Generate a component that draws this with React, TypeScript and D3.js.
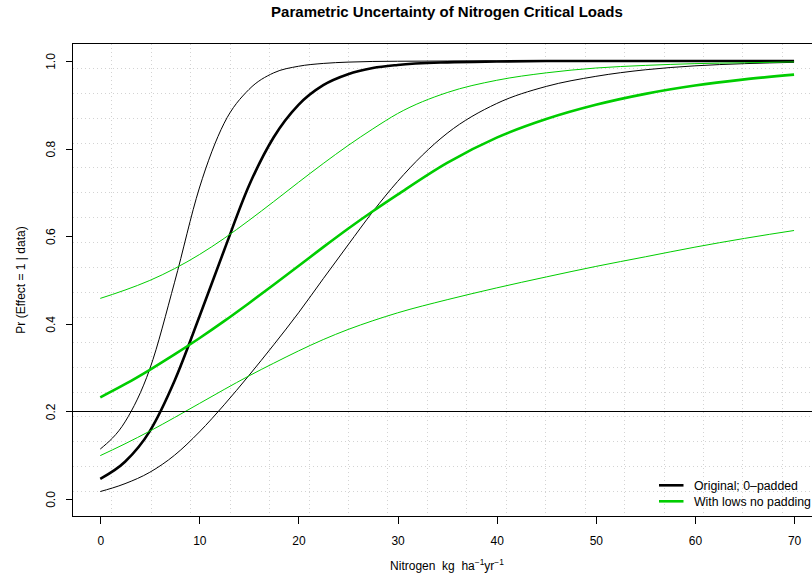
import React, { useEffect, useRef } from "react";
import * as d3 from "d3";

const nitrogen = [0, 2.5, 5, 7.5, 10, 12.5, 15, 17.5, 20, 22.5, 25, 27.5, 30, 35, 40, 45, 50, 55, 60, 65, 70];

// original, 0-padded (black)
const origUpper = [0.114, 0.176, 0.297, 0.495, 0.71, 0.858, 0.935, 0.973, 0.988, 0.9945, 0.9975, 0.999, 0.9995, 1, 1, 1, 1, 1, 1, 1, 1];
const origMid = [0.046, 0.085, 0.155, 0.27, 0.416, 0.568, 0.715, 0.826, 0.9, 0.945, 0.97, 0.984, 0.991, 0.997, 0.999, 1, 1, 1, 1, 1, 1];
const origLower = [0.017, 0.035, 0.061, 0.1, 0.153, 0.215, 0.282, 0.352, 0.425, 0.503, 0.58, 0.656, 0.725, 0.835, 0.903, 0.942, 0.965, 0.98, 0.989, 0.994, 0.997];

// with lows, no padding (green)
const lowsUpper = [0.458, 0.477, 0.499, 0.526, 0.558, 0.595, 0.636, 0.679, 0.723, 0.766, 0.807, 0.845, 0.88, 0.928, 0.956, 0.973, 0.984, 0.99, 0.994, 0.996, 0.998];
const lowsMid = [0.232, 0.262, 0.295, 0.33, 0.367, 0.406, 0.447, 0.489, 0.532, 0.575, 0.617, 0.657, 0.695, 0.7675, 0.825, 0.8675, 0.9, 0.925, 0.944, 0.958, 0.969];
const lowsLower = [0.099, 0.126, 0.155, 0.186, 0.218, 0.25, 0.281, 0.31, 0.338, 0.364, 0.387, 0.407, 0.425, 0.455, 0.482, 0.507, 0.531, 0.553, 0.575, 0.595, 0.613];

const xTicks = [0, 10, 20, 30, 40, 50, 60, 70];
const yTicks = [0, 0.2, 0.4, 0.6, 0.8, 1.0];
const threshold = 0.2;

const legendLabels = ["Original; 0\u2013padded", "With lows no padding"];
const GREEN = "#00cd00";
const FONT = "'Liberation Sans', Arial, Helvetica, sans-serif";

const W = 812;
const H = 577;
const plot = { left: 72.5, right: 821.8, top: 43.5, bottom: 516.5 };

export default function App() {
  const xAxisRef = useRef<SVGGElement>(null);
  const yAxisRef = useRef<SVGGElement>(null);

  // R-style usr range: data range padded by 4% on each side
  const x = d3.scaleLinear().domain([-2.8, 72.8]).range([plot.left, plot.right]);
  const y = d3.scaleLinear().domain([-0.04, 1.04]).range([plot.bottom, plot.top]);

  const line = (vals: number[]) =>
    d3
      .line<number>()
      .x((_, i) => x(nitrogen[i]))
      .y((d) => y(d))
      .curve(d3.curveMonotoneX)(vals) || "";

  // grid(19, 19): equal divisions of the plot region
  const nGrid = 19;
  const xGrid = d3.range(1, nGrid).map((k) => -2.8 + (k * 75.6) / nGrid);
  const yGrid = d3.range(1, nGrid).map((k) => -0.04 + (k * 1.08) / nGrid);

  useEffect(() => {
    const gx = d3.select(xAxisRef.current!);
    gx.call(d3.axisBottom(x).tickValues(xTicks).tickSize(7).tickSizeOuter(0).tickFormat(d3.format("d")));
    gx.select(".domain").attr("d", `M${x(0)},0H${x(70)}`);
    gx.selectAll(".tick text").attr("y", 28).attr("dy", 0).style("font-size", "12px");
    gx.attr("font-family", FONT).attr("shape-rendering", "crispEdges");

    const gy = d3.select(yAxisRef.current!);
    gy.call(d3.axisLeft(y).tickValues(yTicks).tickSize(7).tickSizeOuter(0).tickFormat(d3.format(".1f")));
    gy.select(".domain").attr("d", `M0,${y(0)}V${y(1)}`);
    gy.selectAll(".tick text")
      .attr("x", 0)
      .attr("dy", 0)
      .attr("text-anchor", "middle")
      .attr("transform", "translate(-18,0) rotate(-90)")
      .style("font-size", "12px");
    gy.attr("font-family", FONT).attr("shape-rendering", "crispEdges");
  }, []);

  return (
    <div style={{ position: "fixed", left: 0, top: 0 }}>
      <svg width={W} height={H} style={{ display: "block", background: "#fff" }}>
        <defs>
          <clipPath id="plotClip">
            <rect x={plot.left} y={plot.top} width={plot.right - plot.left} height={plot.bottom - plot.top} />
          </clipPath>
        </defs>

        <g clipPath="url(#plotClip)">
          {xGrid.map((g, i) => (
            <line key={"gx" + i} x1={x(g)} x2={x(g)} y1={plot.top} y2={plot.bottom}
              stroke="#d3d3d3" strokeWidth={1} strokeDasharray="1,3" shapeRendering="crispEdges" />
          ))}
          {yGrid.map((g, i) => (
            <line key={"gy" + i} x1={plot.left} x2={plot.right} y1={y(g)} y2={y(g)}
              stroke="#d3d3d3" strokeWidth={1} strokeDasharray="1,3" shapeRendering="crispEdges" />
          ))}

          <path d={line(origUpper)} fill="none" stroke="#000" strokeWidth={1} />
          <path d={line(origLower)} fill="none" stroke="#000" strokeWidth={1} />
          <path d={line(origMid)} fill="none" stroke="#000" strokeWidth={2.6} />
          <path d={line(lowsUpper)} fill="none" stroke={GREEN} strokeWidth={1} />
          <path d={line(lowsLower)} fill="none" stroke={GREEN} strokeWidth={1} />
          <path d={line(lowsMid)} fill="none" stroke={GREEN} strokeWidth={2.6} />

          <line x1={plot.left} x2={plot.right} y1={y(threshold)} y2={y(threshold)}
            stroke="#000" strokeWidth={1} shapeRendering="crispEdges" />
        </g>

        <rect x={plot.left} y={plot.top} width={plot.right - plot.left} height={plot.bottom - plot.top}
          fill="none" stroke="#000" strokeWidth={1} shapeRendering="crispEdges" />

        <g ref={xAxisRef} transform={`translate(0,${plot.bottom})`} />
        <g ref={yAxisRef} transform={`translate(${plot.left},0)`} />

        {/* legend, no box */}
        {legendLabels.map((lab, i) => (
          <g key={lab} transform={`translate(659,${485.3 + i * 16})`}>
            <line x1={0} x2={24.5} y1={0} y2={0} stroke={i === 0 ? "#000" : GREEN} strokeWidth={2.6} />
            <text x={35} y={0} dy="0.35em" fontSize={12.3} fontFamily={FONT}>{lab}</text>
          </g>
        ))}

        <text x={447} y={17} textAnchor="middle" fontSize={15} fontWeight="bold" fontFamily={FONT}>
          Parametric Uncertainty of Nitrogen Critical Loads
        </text>

        <text x={447} y={570} textAnchor="middle" fontSize={12} fontFamily={FONT} style={{ whiteSpace: "pre" }}>
          {"Nitrogen  kg  ha"}
          <tspan fontSize={8.4} dy={-5}>{"\u22121"}</tspan>
          <tspan dy={5}>yr</tspan>
          <tspan fontSize={8.4} dy={-5}>{"\u22121"}</tspan>
        </text>

        <text transform={`translate(24.5,${(plot.top + plot.bottom) / 2}) rotate(-90)`}
          textAnchor="middle" fontSize={12} fontFamily={FONT}>
          Pr (Effect = 1 | data)
        </text>
      </svg>
    </div>
  );
}
